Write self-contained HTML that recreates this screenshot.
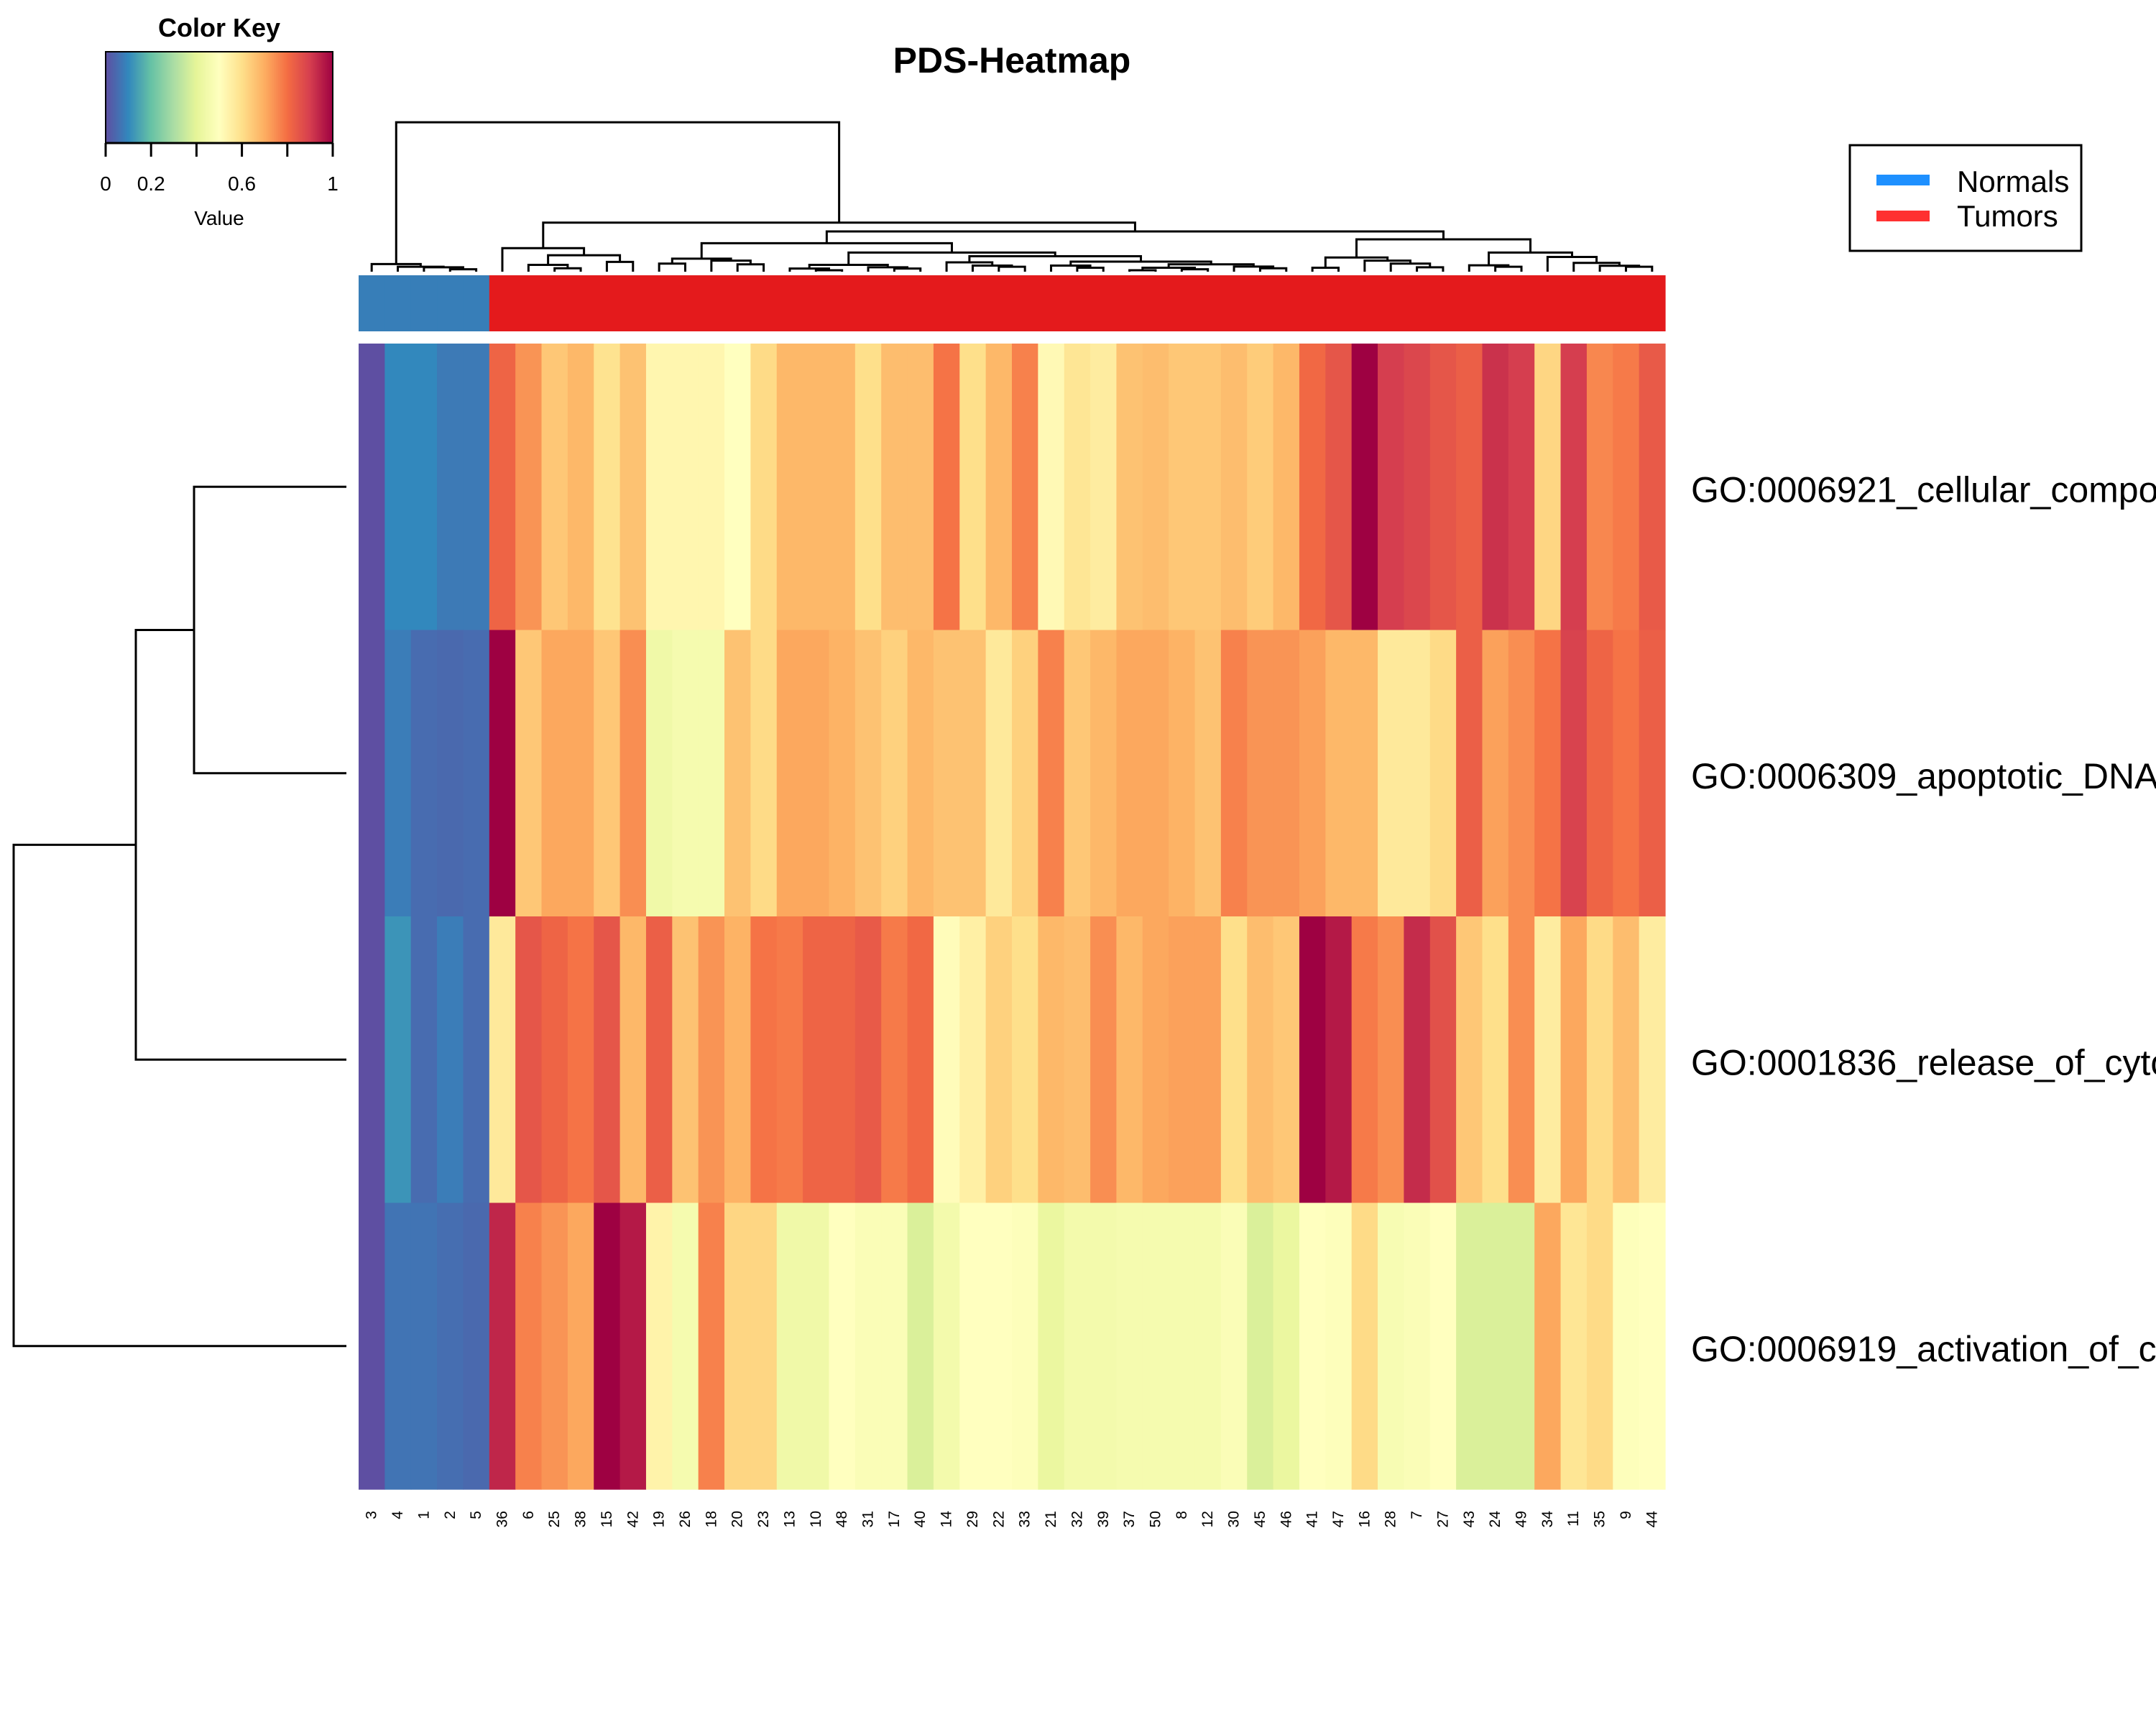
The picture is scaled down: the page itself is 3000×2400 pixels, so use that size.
<!DOCTYPE html>
<html><head><meta charset="utf-8"><style>
html,body{margin:0;padding:0;background:#fff;width:3000px;height:2400px;overflow:hidden}
svg{display:block;font-family:"Liberation Sans",Arial,sans-serif}
</style></head><body>
<svg id="chart" width="3000" height="2400" viewBox="0 0 3000 2400" xmlns="http://www.w3.org/2000/svg">
<rect x="0" y="0" width="3000" height="2400" fill="#fff"/>
<text x="1408" y="101" font-size="50" font-weight="bold" text-anchor="middle">PDS-Heatmap</text>
<g id="key"></g>
<g id="dendCol"></g>
<g id="dendRow"></g>
<g id="sidebar"></g>
<g id="cells"></g>
<g id="collabels"></g>
<g id="rowlabels"></g>
<g>
  <rect x="2574" y="202" width="322" height="147" fill="#fff" stroke="#000" stroke-width="3"/>
  <rect x="2611" y="243" width="74" height="15" fill="#1E90FF"/>
  <rect x="2611" y="293" width="74" height="15" fill="#FF3030"/>
  <text x="2723" y="267" font-size="42">Normals</text>
  <text x="2723" y="315" font-size="42">Tumors</text>
</g>
</svg>
<script>
const colLabels = ["3","4","1","2","5","36","6","25","38","15","42","19","26","18","20","23","13","10","48","31","17","40","14","29","22","33","21","32","39","37","50","8","12","30","45","46","41","47","16","28","7","27","43","24","49","34","11","35","9","44"];
const rowLabels = ["GO:0006921_cellular_component_disassembly_involved_in_execution_phase_of_apoptosis","GO:0006309_apoptotic_DNA_fragmentation","GO:0001836_release_of_cytochrome_c_from_mitochondria","GO:0006919_activation_of_cysteine-type_endopeptidase_activity_involved_in_apoptotic_process"];
const groups = ["N","N","N","N","N","T","T","T","T","T","T","T","T","T","T","T","T","T","T","T","T","T","T","T","T","T","T","T","T","T","T","T","T","T","T","T","T","T","T","T","T","T","T","T","T","T","T","T","T","T"];
const row1 = [0,0.10,0.10,0.075,0.075,0.82,0.74,0.65,0.68,0.59,0.66,0.53,0.53,0.53,0.50,0.61,0.68,0.68,0.68,0.60,0.67,0.67,0.79,0.60,0.68,0.77,0.52,0.58,0.56,0.66,0.67,0.65,0.65,0.67,0.64,0.68,0.81,0.85,1.0,0.90,0.88,0.85,0.83,0.92,0.90,0.62,0.90,0.76,0.78,0.84];
const row2 = [0,0.08,0.05,0.045,0.05,1.0,0.65,0.71,0.71,0.65,0.75,0.44,0.46,0.46,0.66,0.61,0.71,0.71,0.69,0.66,0.63,0.68,0.66,0.66,0.57,0.63,0.77,0.65,0.68,0.71,0.71,0.69,0.66,0.77,0.74,0.74,0.72,0.68,0.68,0.57,0.57,0.61,0.83,0.72,0.75,0.79,0.89,0.82,0.79,0.83];
const row3 = [0,0.12,0.05,0.08,0.05,0.57,0.85,0.82,0.79,0.85,0.68,0.83,0.66,0.74,0.69,0.79,0.78,0.82,0.82,0.84,0.78,0.81,0.51,0.55,0.63,0.60,0.68,0.67,0.75,0.68,0.71,0.72,0.72,0.60,0.67,0.65,1.0,0.96,0.78,0.75,0.93,0.86,0.65,0.60,0.75,0.56,0.71,0.61,0.67,0.56];
const row4 = [0,0.065,0.065,0.055,0.045,0.94,0.77,0.74,0.71,1.0,0.96,0.54,0.46,0.77,0.62,0.62,0.44,0.44,0.50,0.48,0.48,0.38,0.45,0.50,0.50,0.49,0.42,0.45,0.45,0.46,0.46,0.46,0.46,0.48,0.38,0.42,0.50,0.49,0.61,0.47,0.48,0.50,0.38,0.38,0.38,0.71,0.58,0.61,0.49,0.50];
const keyTicks = [0,0.2,0.4,0.6,0.8,1];
const keyTickLabels = ["0","0.2","","0.6","","1"];
const rowMergeHeights = [212,293,463];
const colTree = [[0,[1,[2,[3,4,10],18],20],31],
 [[5,[[6,[7,8,14],28],[9,10,40],67],96],
  [[[[11,12,33],[13,[14,15,30],45],53],
    [[[16,[17,18,6],13],[19,[20,21,13],18],28],
     [[22,[23,[24,25,20],25],38],
      [[26,[27,28,16],25],[[[29,30,6],[31,32,10],16],[33,[34,35,14],21],30],41],63],78],116],
   [[[36,37,16],[38,[39,[40,41,18],33],45],58],
    [[42,[43,44,20],26],[45,[46,[47,[48,49,20],24],36],60],78],132],164],200],609];

const NS="http://www.w3.org/2000/svg";
const X0=499,X1=2317,Y0=478,Y1=2072;
const nC=colLabels.length, nR=rowLabels.length;
const cw=(X1-X0)/nC, rh=(Y1-Y0)/nR;
const spec=["#5E4FA2","#3288BD","#66C2A5","#ABDDA4","#E6F598","#FFFFBF","#FEE08B","#FDAE61","#F46D43","#D53E4F","#9E0142"];
function hex(h){return [1,3,5].map(i=>parseInt(h.substr(i,2),16));}
function color(v){v=Math.max(0,Math.min(1,v));const p=v*10,i=Math.min(9,Math.floor(p)),t=p-i;const a=hex(spec[i]),b=hex(spec[i+1]);return "rgb("+a.map((c,k)=>Math.round(c+(b[k]-c)*t)).join(",")+")";}
function xCol(i){return X0+cw*(i+0.5);}
function yRow(j){return Y0+rh*(j+0.5);}
function mk(tag,attrs,parent){const e=document.createElementNS(NS,tag);for(const k in attrs)e.setAttribute(k,attrs[k]);parent.appendChild(e);return e;}

// heatmap cells
const cells=document.getElementById("cells");
const rows=[row1,row2,row3,row4];
rows.forEach((r,j)=>{r.forEach((v,i)=>{
  const e=mk("rect",{x:(X0+cw*i).toFixed(2),y:(Y0+rh*j).toFixed(2),width:(cw+0.6).toFixed(2),height:(rh+0.6).toFixed(2),fill:color(v)},cells);
  
  
});});

// side bar
const sb=document.getElementById("sidebar");
groups.forEach((g,i)=>{
  const e=mk("rect",{x:(X0+cw*i).toFixed(2),y:383,width:(cw+0.6).toFixed(2),height:78,fill:g==="N"?"#377EB8":"#E41A1C"},sb);
  
  
});

// column labels
const cl=document.getElementById("collabels");
colLabels.forEach((l,i)=>{
  const x=xCol(i),y=2102;
  const t=mk("text",{x:x,y:y,"font-size":21,"text-anchor":"end","dominant-baseline":"central",transform:"rotate(-90 "+x.toFixed(2)+" "+y+")"},cl);
  t.textContent=l;
  
  
});

// row labels
const rl=document.getElementById("rowlabels");
rowLabels.forEach((l,j)=>{
  const t=mk("text",{x:2353,y:yRow(j)+21,"font-size":50},rl);
  t.textContent=l;
  
  
});

// column dendrogram
const dc=document.getElementById("dendCol");
const LEAFY=378, HS=2.93;
function yH(h){return LEAFY-h/HS;}
function drawNode(n){
  if(typeof n==="number") return {x:xCol(n),h:0};
  const a=drawNode(n[0]),b=drawNode(n[1]),h=n[2];
  const p=mk("path",{d:"M"+a.x+" "+yH(a.h)+" V"+yH(h)+" H"+b.x+" V"+yH(b.h),fill:"none",stroke:"#000","stroke-width":3},dc);
  
  
  return {x:(a.x+b.x)/2,h:h};
}
drawNode(colTree);

// row dendrogram
const dr=document.getElementById("dendRow");
const LEAFX=482;
function xH(h){return LEAFX-h;}
function rbranch(y1,h1,y2,h2,h){
  const p=mk("path",{d:"M"+xH(h1)+" "+y1+" H"+xH(h)+" V"+y2+" H"+xH(h2),fill:"none",stroke:"#000","stroke-width":3},dr);
  
  
}
let ny=(yRow(0)+yRow(1))/2;
rbranch(yRow(0),0,yRow(1),0,rowMergeHeights[0]);
let ny2=(ny+yRow(2))/2;
rbranch(ny,rowMergeHeights[0],yRow(2),0,rowMergeHeights[1]);
rbranch(ny2,rowMergeHeights[1],yRow(3),0,rowMergeHeights[2]);

// color key
const key=document.getElementById("key");
const KX0=147,KX1=463,KY0=72,KY1=199;
for(let k=0;k<200;k++){
  const v=(k+0.5)/200;
  const e=mk("rect",{x:(KX0+(KX1-KX0)*k/200).toFixed(2),y:KY0,width:((KX1-KX0)/200+0.5).toFixed(2),height:KY1-KY0,fill:color(v)},key);
  
  
}
const kb=mk("rect",{x:KX0,y:KY0,width:KX1-KX0,height:KY1-KY0,fill:"none",stroke:"#000","stroke-width":2},key);


const ax=mk("line",{x1:KX0,y1:KY1,x2:KX1,y2:KY1,stroke:"#000","stroke-width":3},key);


keyTicks.forEach((v,i)=>{
  const x=KX0+(KX1-KX0)*v;
  const tk=mk("line",{x1:x,y1:KY1,x2:x,y2:218,stroke:"#000","stroke-width":3},key);
  
  
  if(keyTickLabels[i]){
    const t=mk("text",{x:x,y:265,"font-size":28,"text-anchor":"middle"},key);
    t.textContent=keyTickLabels[i];
    
    
  }
});
const kt=mk("text",{x:305,y:51,"font-size":36,"font-weight":"bold","text-anchor":"middle"},key);
kt.textContent="Color Key";


const kv=mk("text",{x:305,y:313,"font-size":28,"text-anchor":"middle"},key);
kv.textContent="Value";


</script>
</body></html>
